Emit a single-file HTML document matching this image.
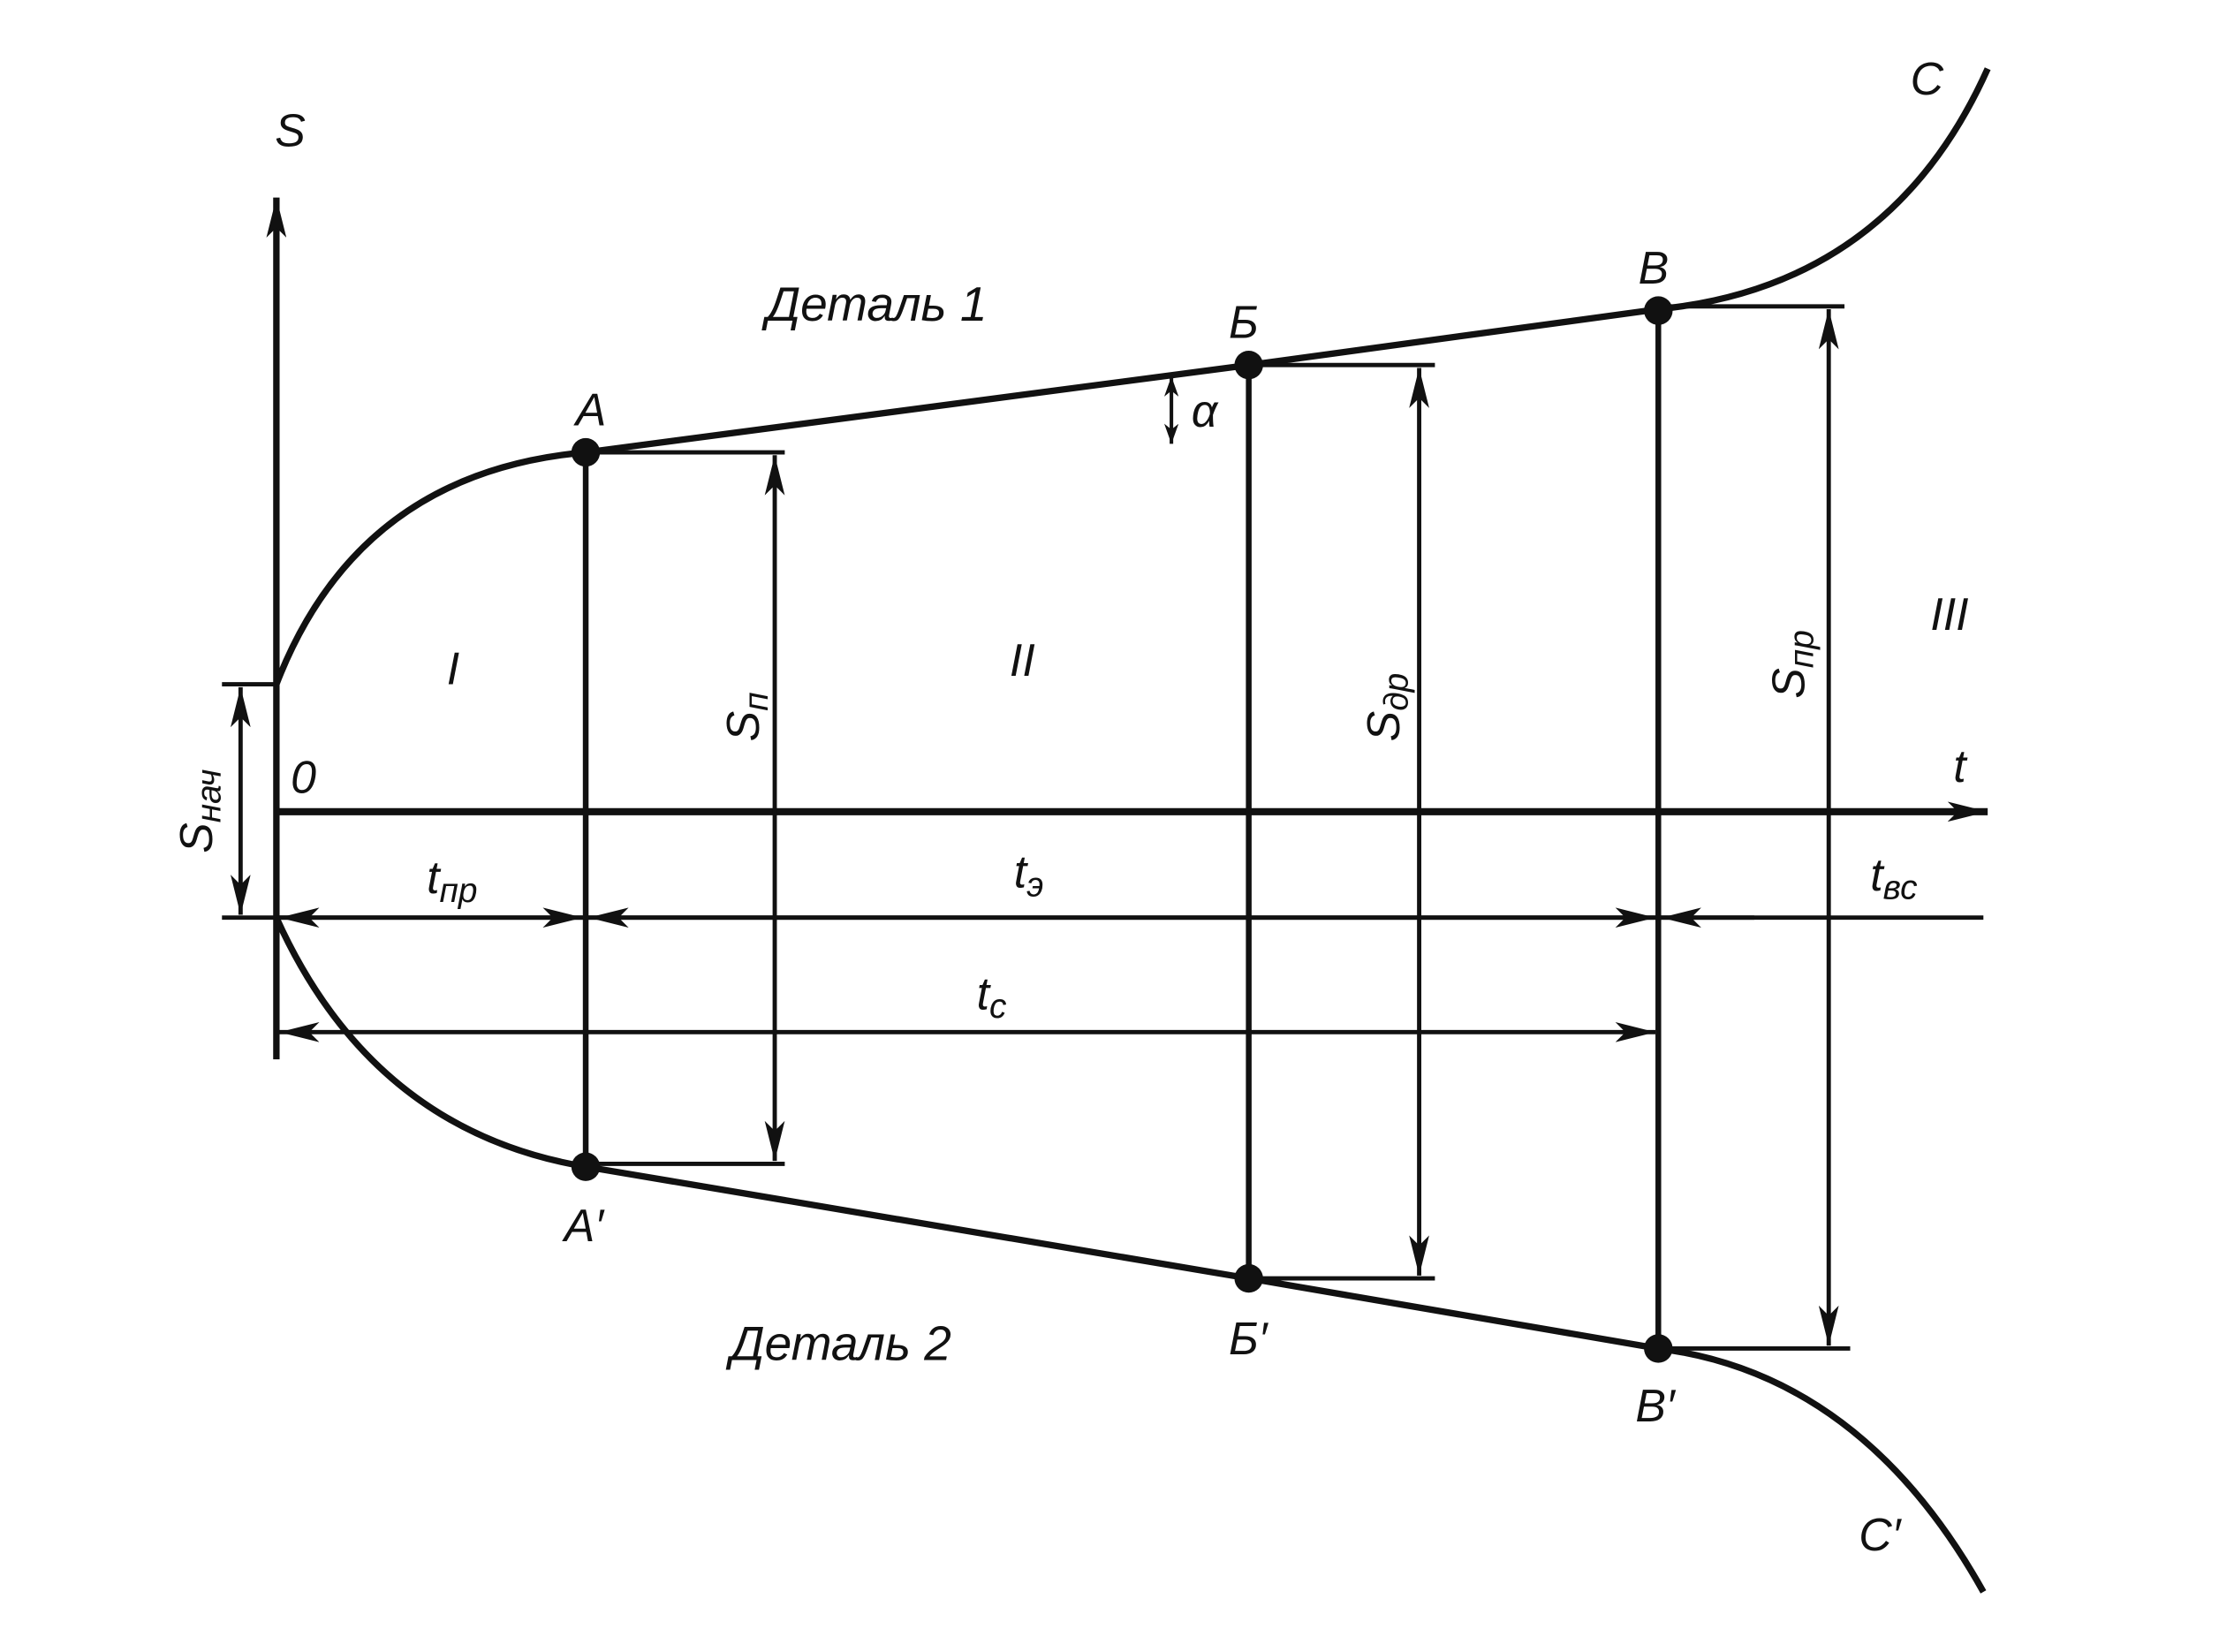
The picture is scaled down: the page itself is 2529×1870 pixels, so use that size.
<!DOCTYPE html>
<html><head><meta charset="utf-8"><style>
html,body{margin:0;padding:0;background:#fff;}
svg{display:block;}
text{font-family:"Liberation Sans","DejaVu Sans",sans-serif;font-style:italic;fill:#111;}
</style></head><body>
<svg width="2529" height="1870" viewBox="0 0 1560 1154" preserveAspectRatio="none" xmlns="http://www.w3.org/2000/svg">
<defs>
<marker id="ah" viewBox="0 0 28 14" refX="28" refY="7" markerWidth="28" markerHeight="14" markerUnits="userSpaceOnUse" orient="auto-start-reverse">
<path d="M0,0 L28,7 L0,14 L7,7 Z" fill="#111"/>
</marker>
<marker id="ahs" viewBox="0 0 14 10" refX="14" refY="5" markerWidth="14" markerHeight="10" markerUnits="userSpaceOnUse" orient="auto-start-reverse">
<path d="M0,0 L14,5 L0,10 L4,5 Z" fill="#111"/>
</marker>
</defs>
<g stroke="#111" fill="none" stroke-width="4">
<line x1="193" y1="740" x2="193" y2="138" marker-end="url(#ah)" stroke-width="4.5"/>
<line x1="193" y1="567" x2="1388" y2="567" marker-end="url(#ah)" stroke-width="5"/>
<line x1="155" y1="641" x2="1385" y2="641" stroke-width="3"/>
<line x1="155" y1="478" x2="193" y2="478" stroke-width="3"/>
<line x1="168" y1="480" x2="168" y2="639" marker-start="url(#ah)" marker-end="url(#ah)" stroke-width="3"/>
<path d="M193,478 Q250,330 409,316 L872,255 L1158,216 Q1320,200 1388,48" stroke-width="4.5"/>
<path d="M193,641 Q260,790 409,815 L872,893 L1158,942 Q1300,960 1385,1112" stroke-width="4.5"/>
<line x1="409" y1="316" x2="409" y2="815"/>
<line x1="872" y1="255" x2="872" y2="893"/>
<line x1="1158" y1="216" x2="1158" y2="942"/>
<line x1="409" y1="316" x2="548" y2="316" stroke-width="3"/>
<line x1="409" y1="813" x2="548" y2="813" stroke-width="3"/>
<line x1="872" y1="255" x2="1002" y2="255" stroke-width="3"/>
<line x1="872" y1="893" x2="1002" y2="893" stroke-width="3"/>
<line x1="1158" y1="214" x2="1288" y2="214" stroke-width="3"/>
<line x1="1158" y1="942" x2="1292" y2="942" stroke-width="3"/>
<line x1="541" y1="318" x2="541" y2="811" marker-start="url(#ah)" marker-end="url(#ah)" stroke-width="3"/>
<line x1="991" y1="257" x2="991" y2="891" marker-start="url(#ah)" marker-end="url(#ah)" stroke-width="3"/>
<line x1="1277" y1="216" x2="1277" y2="940" marker-start="url(#ah)" marker-end="url(#ah)" stroke-width="3"/>
<line x1="818" y1="263" x2="818" y2="310" marker-start="url(#ahs)" marker-end="url(#ahs)" stroke-width="2.5"/>
<line x1="195" y1="641" x2="407" y2="641" marker-start="url(#ah)" marker-end="url(#ah)" stroke-width="3"/>
<line x1="411" y1="641" x2="1156" y2="641" marker-start="url(#ah)" marker-end="url(#ah)" stroke-width="3"/>
<line x1="1225" y1="641" x2="1160" y2="641" marker-end="url(#ah)" stroke-width="3"/>
<line x1="195" y1="721" x2="1156" y2="721" marker-start="url(#ah)" marker-end="url(#ah)" stroke-width="3"/>
</g>
<g fill="#111">
<circle cx="409" cy="316" r="10"/><circle cx="409" cy="815" r="10"/>
<circle cx="872" cy="255" r="10"/><circle cx="872" cy="893" r="10"/>
<circle cx="1158" cy="217" r="10"/><circle cx="1158" cy="942" r="10"/>
</g>
<g font-size="32">
<text x="192" y="102">S</text>
<text x="1364" y="546">t</text>
<text x="203" y="554">0</text>
<text x="535" y="224" font-size="34">Деталь 1</text>
<text x="510" y="950" font-size="34">Деталь 2</text>
<text x="312" y="478">I</text>
<text x="705" y="472">II</text>
<text x="1348" y="440">III</text>
<text x="402" y="297">A</text>
<text x="394" y="867">A′</text>
<text x="858" y="236">Б</text>
<text x="858" y="946">Б′</text>
<text x="1144" y="198">В</text>
<text x="1142" y="993">В′</text>
<text x="1334" y="66">C</text>
<text x="1298" y="1083">C′</text>
<text x="832" y="298">α</text>
<text x="298" y="624">t<tspan font-size="24" dy="6">пр</tspan></text>
<text x="708" y="620">t<tspan font-size="24" dy="6">э</tspan></text>
<text x="1306" y="622">t<tspan font-size="24" dy="6">вс</tspan></text>
<text x="682" y="705">t<tspan font-size="24" dy="6">с</tspan></text>
<text transform="translate(148,596) rotate(-90)">S<tspan font-size="24" dy="6">нач</tspan></text>
<text transform="translate(530,518) rotate(-90)">S<tspan font-size="24" dy="6">п</tspan></text>
<text transform="translate(977,518) rotate(-90)">S<tspan font-size="24" dy="6">др</tspan></text>
<text transform="translate(1260,488) rotate(-90)">S<tspan font-size="24" dy="6">пр</tspan></text>
</g>
</svg>
</body></html>
